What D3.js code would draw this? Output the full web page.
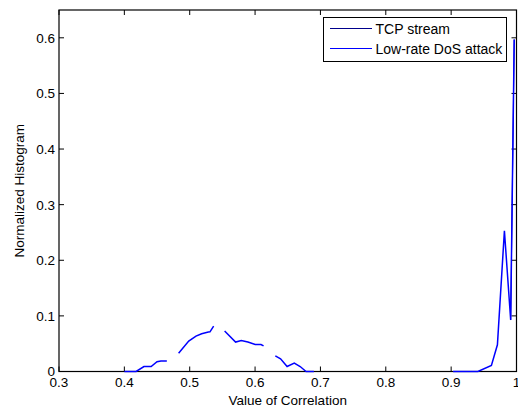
<!DOCTYPE html>
<html>
<head>
<meta charset="utf-8">
<script src="https://cdn.jsdelivr.net/npm/d3@7"></script>
<style>
  html, body { margin: 0; padding: 0; background: #ffffff; }
</style>
</head>
<body>
<div id="chart"></div>
<script>
// axis ticks
const xTickValues = [0.3, 0.4, 0.5, 0.6, 0.7, 0.8, 0.9, 1];
const yTickValues = [0, 0.1, 0.2, 0.3, 0.4, 0.5, 0.6];

// Low-rate DoS attack histogram (null = gap in the curve)
const dosX = [0.400, 0.418, 0.430, 0.441, 0.450, 0.456, 0.465, 0.474,
              0.483, 0.4985, 0.5096, 0.5183, 0.5285, 0.531, 0.5366, 0.545,
              0.5534, 0.5702, 0.5789, 0.589, 0.6002, 0.609, 0.613, 0.622,
              0.631, 0.639, 0.649, 0.660, 0.669, 0.678, 0.690, 0.80,
              0.903, 0.941, 0.9616, 0.9708, 0.9815, 0.9911, 0.9965];
const dosY = [0, 0, 0.009, 0.009, 0.0175, 0.019, 0.0187, null,
              0.033, 0.0547, 0.0637, 0.0678, 0.0709, 0.0714, 0.0817, null,
              0.0727, 0.0529, 0.0558, 0.0529, 0.0486, 0.0486, 0.046, null,
              0.028, 0.0228, 0.009, 0.015, 0.009, 0, 0, null,
              0, 0, 0.011, 0.048, 0.253, 0.0925, 0.597];

// TCP stream histogram (lies under the DoS curve at the right edge)
const tcpX = [0.9911, 0.9965];
const tcpY = [0.0925, 0.597];

const seriesNames = ["TCP stream", "Low-rate DoS attack"];
const seriesColors = ["#00008b", "#0000ff"];

const width = 518, height = 407;
const margin = { top: 10, right: 1.5, bottom: 35.5, left: 59 };
const font = "Arial, 'Liberation Sans', Helvetica, sans-serif";

const svg = d3.select("#chart").append("svg")
    .attr("width", width)
    .attr("height", height)
    .style("display", "block");

const x = d3.scaleLinear().domain([0.3, 1]).range([margin.left, width - margin.right]);
const y = d3.scaleLinear().domain([0, 0.65]).range([height - margin.bottom, margin.top]);

const x0 = x.range()[0], x1 = x.range()[1];
const y0 = y.range()[0], y1 = y.range()[1];

// data lines
const toPoints = (xs, ys) => xs.map((v, i) => ({ x: v, y: ys[i] }));
const line = d3.line()
    .defined(d => d.y !== null)
    .x(d => x(d.x))
    .y(d => y(d.y));

svg.append("path")
    .datum(toPoints(tcpX, tcpY))
    .attr("fill", "none")
    .attr("stroke", seriesColors[0])
    .attr("stroke-width", 1)
    .attr("d", line);

// frame
svg.append("rect")
    .attr("x", x0)
    .attr("y", y1)
    .attr("width", x1 - x0)
    .attr("height", y0 - y1)
    .attr("fill", "none")
    .attr("stroke", "#000")
    .attr("stroke-width", 1.2);

// ticks on all four sides (inward)
const tickLen = 5;
xTickValues.forEach(t => {
    svg.append("line").attr("x1", x(t)).attr("x2", x(t)).attr("y1", y0).attr("y2", y0 - tickLen)
        .attr("stroke", "#000").attr("stroke-width", 1);
    svg.append("line").attr("x1", x(t)).attr("x2", x(t)).attr("y1", y1).attr("y2", y1 + tickLen)
        .attr("stroke", "#000").attr("stroke-width", 1);
    svg.append("text")
        .attr("x", x(t))
        .attr("y", y0 + 15)
        .attr("text-anchor", "middle")
        .style("font-family", font)
        .style("font-size", "13.5px")
        .style("fill", "#000")
        .text(t);
});
yTickValues.forEach(t => {
    svg.append("line").attr("x1", x0).attr("x2", x0 + tickLen).attr("y1", y(t)).attr("y2", y(t))
        .attr("stroke", "#000").attr("stroke-width", 1);
    svg.append("line").attr("x1", x1).attr("x2", x1 - tickLen).attr("y1", y(t)).attr("y2", y(t))
        .attr("stroke", "#000").attr("stroke-width", 1);
    svg.append("text")
        .attr("x", x0 - 4)
        .attr("y", y(t))
        .attr("dy", "0.36em")
        .attr("text-anchor", "end")
        .style("font-family", font)
        .style("font-size", "13.5px")
        .style("fill", "#000")
        .text(t);
});

// DoS curve drawn on top of the axes
svg.append("path")
    .datum(toPoints(dosX, dosY))
    .attr("fill", "none")
    .attr("stroke", seriesColors[1])
    .attr("stroke-width", 1.5)
    .attr("d", line);

// axis titles
svg.append("text")
    .attr("x", (x0 + x1) / 2)
    .attr("y", 405)
    .attr("text-anchor", "middle")
    .style("font-family", font)
    .style("font-size", "13.5px")
    .text("Value of Correlation");

svg.append("text")
    .attr("transform", `translate(24, ${(y0 + y1) / 2}) rotate(-90)`)
    .attr("text-anchor", "middle")
    .style("font-family", font)
    .style("font-size", "13.5px")
    .text("Normalized Histogram");

// legend
const legend = svg.append("g");
legend.append("rect")
    .attr("x", 323.5)
    .attr("y", 17.5)
    .attr("width", 183)
    .attr("height", 44)
    .attr("fill", "#fff")
    .attr("stroke", "#000")
    .attr("stroke-width", 1);

seriesNames.forEach((name, i) => {
    const ly = 28.5 + i * 20;
    legend.append("line")
        .attr("x1", 330).attr("x2", 372)
        .attr("y1", ly).attr("y2", ly)
        .attr("stroke", seriesColors[i])
        .attr("stroke-width", 1);
    legend.append("text")
        .attr("x", 375.5)
        .attr("y", ly)
        .attr("dy", "0.36em")
        .style("font-family", font)
        .style("font-size", "14px")
        .text(name);
});
</script>
</body>
</html>
